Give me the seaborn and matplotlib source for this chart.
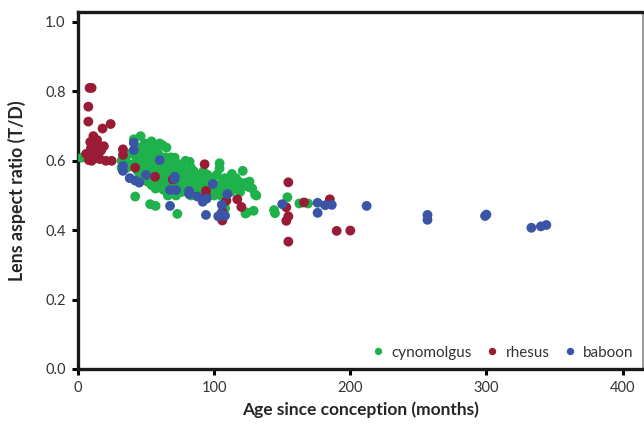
import numpy as np
import pandas as pd
import matplotlib
matplotlib.use("Agg")
import matplotlib.pyplot as plt
import seaborn as sns

# ---- data ----
cyno_age = [2.7, 32, 32, 35, 36, 38, 40, 39.4, 41, 42, 43, 44, 44, 45,
            46, 47, 47, 48, 48, 49, 49, 50, 50, 50, 51, 51, 52, 52, 53, 53, 53, 54, 54, 54, 55, 55, 55,
            56, 56, 57, 57, 57, 58, 58, 59, 59, 60, 60, 61, 61, 62, 62, 63, 63, 63, 64, 64, 65, 65, 65,
            44, 46, 48, 50, 52, 54, 56, 58, 60, 45, 47, 49, 51, 53, 55, 57, 59, 61,
            66, 66, 67, 67, 68, 68, 69, 69, 70, 70, 71, 71, 72, 72, 73, 73, 74, 74, 75, 75,
            76, 76, 77, 78, 78, 79, 80, 80, 81, 82, 82, 83, 83, 84, 85, 85, 86, 87, 88, 88, 89, 90,
            91, 92, 92, 93, 94, 95, 96, 97, 98, 99, 100, 101, 102, 103, 104, 104, 105, 106, 107, 108, 108, 109,
            110, 111, 112, 113, 113, 114, 115, 116, 117, 118, 119, 120, 121, 122, 122.7, 123, 124, 125, 126, 128,
            129, 130, 131, 144, 144.7, 153.8, 162.6, 169]
cyno_ratio = [0.609, 0.60, 0.58, 0.60, 0.58, 0.62, 0.59, 0.588, 0.662, 0.497, 0.61, 0.57, 0.63, 0.55,
              0.671, 0.64, 0.60, 0.62, 0.58, 0.56, 0.65, 0.63, 0.60, 0.57, 0.54, 0.61, 0.59, 0.64, 0.56, 0.475, 0.62, 0.656, 0.58, 0.53, 0.60, 0.55, 0.63,
              0.61, 0.57, 0.47, 0.52, 0.64, 0.59, 0.55, 0.62, 0.57, 0.54, 0.65, 0.58, 0.60, 0.52, 0.645, 0.56, 0.59, 0.516, 0.61, 0.55, 0.638, 0.57, 0.53,
              0.59, 0.58, 0.60, 0.55, 0.57, 0.61, 0.59, 0.56, 0.57, 0.62, 0.55, 0.60, 0.58, 0.60, 0.57, 0.60, 0.55, 0.55,
              0.60, 0.50, 0.56, 0.58, 0.54, 0.61, 0.52, 0.57, 0.59, 0.55, 0.609, 0.53, 0.57, 0.50, 0.447, 0.55, 0.59, 0.52, 0.56, 0.54,
              0.58, 0.51, 0.55, 0.53, 0.57, 0.60, 0.52, 0.55, 0.56, 0.597, 0.54, 0.58, 0.50, 0.53, 0.55, 0.57, 0.52, 0.54, 0.56, 0.50, 0.53, 0.55,
              0.52, 0.569, 0.50, 0.54, 0.53, 0.56, 0.51, 0.54, 0.52, 0.55, 0.50, 0.53, 0.56, 0.52, 0.593, 0.578, 0.50, 0.54, 0.52, 0.463, 0.55, 0.51,
              0.53, 0.55, 0.51, 0.562, 0.516, 0.54, 0.53, 0.55, 0.52, 0.54, 0.51, 0.53, 0.571, 0.53, 0.536, 0.448, 0.451, 0.525, 0.54, 0.52,
              0.456, 0.503, 0.50, 0.458, 0.449, 0.495, 0.477, 0.477]

rhesus_age = [8.5, 10, 7.6, 7.6, 18, 24, 11.3, 9, 13, 16, 9.5, 19, 12.5, 8, 16, 13, 8, 20.5, 24.7,
              6, 11, 14, 17, 10, 15,
              33, 33, 42, 56.6, 69.6, 93, 82, 94, 94, 109, 117, 120, 106, 106,
              154.5, 153, 154.5, 153, 154.5, 166, 185, 190, 200]
rhesus_ratio = [0.81, 0.81, 0.756, 0.713, 0.693, 0.706, 0.671, 0.654, 0.654, 0.642, 0.636, 0.642, 0.62, 0.614, 0.605, 0.608, 0.602, 0.60, 0.60,
                0.62, 0.63, 0.66, 0.63, 0.60, 0.62,
                0.633, 0.617, 0.58, 0.554, 0.546, 0.59, 0.507, 0.513, 0.50, 0.485, 0.489, 0.467, 0.428, 0.453,
                0.538, 0.466, 0.44, 0.427, 0.367, 0.48, 0.489, 0.398, 0.399]

baboon_age = [41, 41, 33, 33, 38, 42, 45, 50, 60, 71, 71, 67.6, 72, 81.6, 81.6, 87.7, 91.6, 94.5, 99,
              109.7, 105.6, 105, 103, 108, 94, 67.6, 150, 176, 176, 181.5, 186.4, 212, 256.7, 256.7,
              299, 300, 333, 340, 344]
baboon_ratio = [0.652, 0.631, 0.585, 0.571, 0.55, 0.543, 0.537, 0.559, 0.602, 0.554, 0.548, 0.516, 0.516, 0.513, 0.504, 0.497, 0.482, 0.491, 0.533,
                0.504, 0.473, 0.447, 0.44, 0.442, 0.444, 0.47, 0.475, 0.479, 0.45, 0.472, 0.473, 0.47, 0.444, 0.43,
                0.441, 0.445, 0.407, 0.411, 0.415]

species = ["cynomolgus", "rhesus", "baboon"]
colors = ["#1fb14b", "#9a1b35", "#3a55a6"]

df = pd.concat([
    pd.DataFrame({"age": cyno_age, "ratio": cyno_ratio, "species": species[0]}),
    pd.DataFrame({"age": rhesus_age, "ratio": rhesus_ratio, "species": species[1]}),
    pd.DataFrame({"age": baboon_age, "ratio": baboon_ratio, "species": species[2]}),
], ignore_index=True)

sns.set_style("ticks")
plt.rcParams["font.family"] = ["Lato", "DejaVu Sans"]

fig = plt.figure(figsize=(6.44, 4.24), dpi=100)
ax = fig.add_axes([78 / 644, (424 - 369) / 424, 565 / 644, 357 / 424])

sns.scatterplot(data=df, x="age", y="ratio", hue="species", hue_order=species,
                palette=colors, s=50, linewidth=0, alpha=1, ax=ax, zorder=3)

ax.set_xlim(0, 415)
ax.set_ylim(0, 1.0288)
ax.set_xticks([0, 100, 200, 300, 400])
ax.set_yticks([0.0, 0.2, 0.4, 0.6, 0.8, 1.0])
ax.set_yticklabels(["0.0", "0.2", "0.4", "0.6", "0.8", "1.0"])
ax.tick_params(axis="both", direction="out", length=4, width=2.2, color="black",
               labelsize=10.5, labelcolor="#333333", pad=5)

for s in ["left", "bottom", "top"]:
    ax.spines[s].set_linewidth(2.4)
    ax.spines[s].set_color("#1a1a1a")
ax.spines["right"].set_linewidth(1.2)
ax.spines["right"].set_color("#888888")

ax.set_xlabel("Age since conception (months)", fontsize=12.5, fontweight="bold", labelpad=4)
ax.set_ylabel("Lens aspect ratio (T/D)", fontsize=12.8, fontweight="bold", labelpad=14)

handles, labels = ax.get_legend_handles_labels()
ax.legend(handles, labels, ncol=3, loc="lower right", bbox_to_anchor=(1.0, 0.0),
          frameon=False, fontsize=11, handletextpad=-0.1, columnspacing=0.3,
          markerscale=0.75, borderaxespad=0.2, labelcolor="#333333")

fig.savefig("out.png", dpi=100)
